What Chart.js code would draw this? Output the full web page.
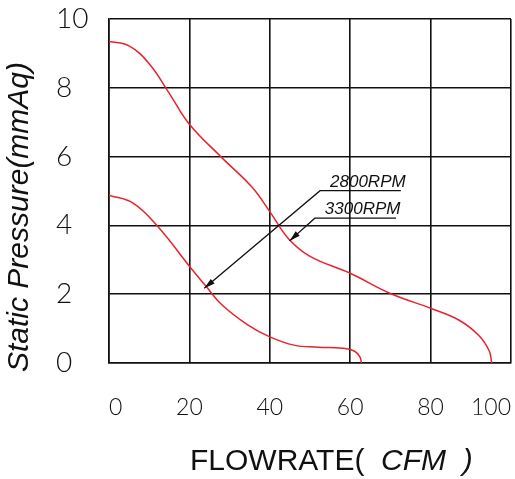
<!DOCTYPE html>
<html>
<head>
<meta charset="utf-8">
<script src="https://cdn.jsdelivr.net/npm/chart.js@4/dist/chart.umd.min.js"></script>
<style>
  body { margin: 0; background: #fff; }
</style>
</head>
<body>
<canvas id="pqChart" width="515" height="479"></canvas>
<script>
// Fan P-Q curves
const flow3300 = [0, 5, 10, 15, 20, 27.8, 35.5, 40, 44.6, 50, 60, 70, 80, 87, 92, 94.6, 95.2];
const pres3300 = [9.35, 9.22, 8.7, 7.84, 6.94, 6.0, 5.12, 4.4, 3.62, 3.1, 2.61, 2.02, 1.59, 1.25, 0.8, 0.35, 0];
const flow2800 = [0, 6, 12.2, 20.1, 24, 28, 34.6, 40, 46, 52, 58, 61, 62.4, 62.8];
const pres2800 = [4.88, 4.65, 3.96, 2.8, 2.25, 1.7, 1.1, 0.76, 0.52, 0.46, 0.43, 0.35, 0.18, 0];
const seriesNames = ['3300RPM', '2800RPM'];
const xTicks = [0, 20, 40, 60, 80, 100];
const yTicks = [0, 2, 4, 6, 8, 10];

const TICK_FONT = "Lato, 'DejaVu Sans Condensed', sans-serif";
const LABEL_FONT = "'Liberation Sans', Arial, sans-serif";
const RED = '#e8222c';
const INK = '#111';

function toPoints(xs, ys) {
  return xs.map((x, i) => ({ x: x, y: ys[i] }));
}

// callouts: underline (data units) and arrow tip on the curve
const callouts = [
  { text: seriesNames[1], from: [52.5, 5.01], to: [72.6, 5.01], tip: [23.7, 2.17] },
  { text: seriesNames[0], from: [51.2, 4.21], to: [71.4, 4.21], tip: [44.9, 3.55] }
];

const calloutPlugin = {
  id: 'callouts',
  afterDatasetsDraw(chart) {
    const ctx = chart.ctx;
    const x = chart.scales.x, y = chart.scales.y;
    ctx.save();
    ctx.strokeStyle = INK;
    ctx.fillStyle = INK;
    ctx.lineWidth = 1.3;
    callouts.forEach(c => {
      const x0 = x.getPixelForValue(c.from[0]);
      const y0 = y.getPixelForValue(c.from[1]);
      const x1 = x.getPixelForValue(c.to[0]);
      const tx = x.getPixelForValue(c.tip[0]);
      const ty = y.getPixelForValue(c.tip[1]);
      ctx.beginPath();
      ctx.moveTo(x1, y0);
      ctx.lineTo(x0, y0);
      ctx.lineTo(tx, ty);
      ctx.stroke();
      // arrow head
      const a = Math.atan2(ty - y0, tx - x0);
      const len = 11, half = 3;
      ctx.beginPath();
      ctx.moveTo(tx, ty);
      ctx.lineTo(tx - len * Math.cos(a) + half * Math.sin(a), ty - len * Math.sin(a) - half * Math.cos(a));
      ctx.lineTo(tx - len * Math.cos(a) - half * Math.sin(a), ty - len * Math.sin(a) + half * Math.cos(a));
      ctx.closePath();
      ctx.fill();
      ctx.font = 'italic 17px ' + LABEL_FONT;
      ctx.textAlign = 'left';
      ctx.textBaseline = 'alphabetic';
      ctx.fillText(c.text, x0 + 10, y0 - 4);
    });
    ctx.restore();
  }
};

// axis titles drawn by hand (mixed upright / italic)
const titlePlugin = {
  id: 'titles',
  afterDraw(chart) {
    const ctx = chart.ctx;
    ctx.save();
    ctx.fillStyle = INK;
    ctx.textBaseline = 'alphabetic';

    ctx.font = '30px ' + LABEL_FONT;
    ctx.textAlign = 'left';
    const part1 = 'FLOWRATE(';
    ctx.fillText(part1, 190, 470);
    const w = ctx.measureText(part1).width;
    ctx.font = 'italic 30px ' + LABEL_FONT;
    ctx.fillText('  CFM  )', 190 + w, 470);

    ctx.translate(28, 217);
    ctx.rotate(-Math.PI / 2);
    ctx.textAlign = 'center';
    ctx.font = 'italic 30px ' + LABEL_FONT;
    ctx.fillText('Static Pressure(mmAq)', 0, 0);
    ctx.restore();
  }
};

new Chart(document.getElementById('pqChart'), {
  type: 'line',
  data: {
    datasets: [
      {
        label: seriesNames[0],
        data: toPoints(flow3300, pres3300),
        borderColor: RED,
        borderWidth: 1.5,
        pointRadius: 0,
        fill: false,
        tension: 0.4
      },
      {
        label: seriesNames[1],
        data: toPoints(flow2800, pres2800),
        borderColor: RED,
        borderWidth: 1.5,
        pointRadius: 0,
        fill: false,
        tension: 0.4
      }
    ]
  },
  options: {
    responsive: false,
    animation: false,
    layout: { padding: { left: 56, top: 19, right: 4, bottom: 0 } },
    plugins: {
      legend: { display: false },
      tooltip: { enabled: false }
    },
    scales: {
      x: {
        type: 'linear',
        min: 0,
        max: 100,
        afterBuildTicks: axis => { axis.ticks = xTicks.map(v => ({ value: v })); },
        afterFit: axis => {
          axis.height = 116;
          axis.paddingLeft = 0;
          axis.paddingRight = 0;
        },
        grid: { color: INK, lineWidth: 1.6, drawTicks: false },
        border: { color: INK, width: 1.6 },
        ticks: {
          align: 'inner',
          padding: 31,
          maxRotation: 0,
          color: INK,
          font: { family: TICK_FONT, size: 23, weight: '300' }
        }
      },
      y: {
        min: 0,
        max: 10,
        afterBuildTicks: axis => { axis.ticks = yTicks.map(v => ({ value: v })); },
        afterFit: axis => {
          axis.width = 53;
          axis.paddingTop = 0;
          axis.paddingBottom = 0;
        },
        grid: { color: INK, lineWidth: 1.6, drawTicks: false },
        border: { color: INK, width: 1.6 },
        ticks: {
          crossAlign: 'far',
          color: INK,
          font: { family: TICK_FONT, size: 28, weight: '300' }
        }
      }
    }
  },
  plugins: [calloutPlugin, titlePlugin]
});
</script>
</body>
</html>
